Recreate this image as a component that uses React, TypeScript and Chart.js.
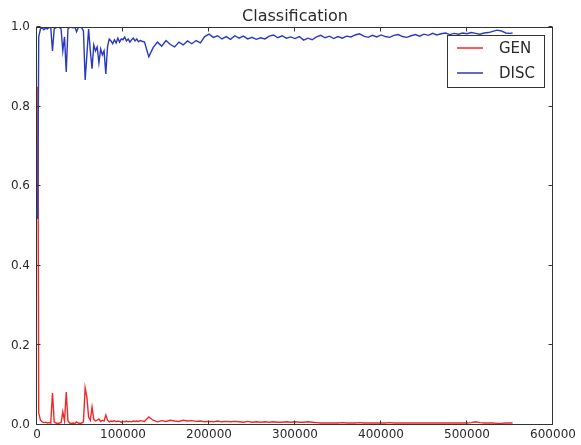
import { useEffect, useRef } from "react";
import { Chart, registerables } from "chart.js";

Chart.register(...registerables);

const TITLE = "Classification";
const SERIES_NAMES = ["GEN", "DISC"];
const SERIES_COLORS = ["#f02828", "#2a3ac0"];
const X_TICKS = [0, 100000, 200000, 300000, 400000, 500000, 600000];
const Y_TICKS = [0, 0.2, 0.4, 0.6, 0.8, 1.0];

// iteration (in thousands)
const X_EARLY_K = [
  0, 1, 2, 4, 6, 8, 10, 12, 14, 16,
  18, 20, 22, 24, 26, 28, 30, 32, 34, 36,
  38, 40, 42, 44, 46, 48, 50, 52, 54, 56,
  58, 60, 62, 64, 66, 68, 70, 72, 74, 76,
  78, 80, 82, 84, 86, 88, 90, 92, 94, 96,
  98, 100, 102, 104, 106, 108, 110, 112, 114, 116,
  118, 120,
];
const X_LATE_K = [
  125, 130, 135, 140, 145, 150, 155, 160, 165, 170,
  175, 180, 185, 190, 195, 200, 205, 210, 215, 220,
  225, 230, 235, 240, 245, 250, 255, 260, 265, 270,
  275, 280, 285, 290, 295, 300, 305, 310, 315, 320,
  325, 330, 335, 340, 345, 350, 355, 360, 365, 370,
  375, 380, 385, 390, 395, 400, 405, 410, 415, 420,
  425, 430, 435, 440, 445, 450, 455, 460, 465, 470,
  475, 480, 485, 490, 495, 500, 505, 510, 515, 520,
  525, 530, 535, 540, 545, 550, 553,
];

const GEN_EARLY = [
  0.52, 0.85, 0.03, 0.012, 0.008, 0.006, 0.007, 0.005, 0.006, 0.005,
  0.08, 0.008, 0.005, 0.004, 0.005, 0.006, 0.033, 0.01, 0.083, 0.01,
  0.005, 0.004, 0.005, 0.004, 0.008, 0.005, 0.004, 0.005, 0.008, 0.093,
  0.07, 0.02, 0.012, 0.045, 0.014, 0.01, 0.012, 0.015, 0.009, 0.012,
  0.01, 0.025, 0.012, 0.008, 0.01, 0.009, 0.011, 0.008, 0.01, 0.009,
  0.007, 0.009, 0.008, 0.01, 0.008, 0.009, 0.008, 0.01, 0.009, 0.01,
  0.009, 0.011,
];
const GEN_LATE = [
  0.009, 0.02, 0.012, 0.008, 0.011, 0.009, 0.012, 0.01, 0.009, 0.012,
  0.01, 0.011, 0.009, 0.01, 0.008, 0.009, 0.008, 0.01, 0.008, 0.009,
  0.008, 0.009, 0.008, 0.007, 0.009, 0.007, 0.008, 0.007, 0.008, 0.007,
  0.008, 0.007, 0.007, 0.008, 0.007, 0.008, 0.007, 0.007, 0.008, 0.007,
  0.006, 0.005, 0.005, 0.005, 0.005, 0.005, 0.006, 0.005, 0.005, 0.005,
  0.006, 0.005, 0.005, 0.005, 0.005, 0.005, 0.005, 0.006, 0.005, 0.005,
  0.005, 0.005, 0.005, 0.005, 0.005, 0.005, 0.005, 0.005, 0.005, 0.005,
  0.005, 0.005, 0.005, 0.005, 0.005, 0.005, 0.006, 0.008, 0.006, 0.005,
  0.005, 0.005, 0.004, 0.004, 0.005, 0.005, 0.005,
];

const DISC_EARLY = [
  0.52, 0.57, 0.975, 0.995, 0.998, 0.993, 0.997, 0.995, 0.999, 0.998,
  0.94, 0.995, 0.998, 1.0, 0.999, 0.995, 0.94, 0.975, 0.887, 0.995,
  1.0, 0.999, 0.998, 1.0, 0.988, 0.999, 1.0, 0.998, 0.99, 0.867,
  0.93, 0.995, 0.94, 0.895, 0.955, 0.94, 0.95, 0.91, 0.945, 0.93,
  0.94, 0.882, 0.95, 0.97, 0.965, 0.958, 0.968, 0.96, 0.972, 0.962,
  0.97, 0.968, 0.975, 0.965, 0.97, 0.962, 0.968, 0.972, 0.965, 0.97,
  0.963, 0.966,
];
const DISC_LATE = [
  0.962, 0.925, 0.948, 0.962, 0.952, 0.966, 0.956, 0.95, 0.962, 0.955,
  0.965, 0.958, 0.966, 0.96, 0.976, 0.982, 0.974, 0.978, 0.97, 0.976,
  0.969, 0.978, 0.972, 0.977, 0.97, 0.974, 0.969, 0.973, 0.97, 0.977,
  0.98, 0.973, 0.978, 0.972, 0.975, 0.971, 0.976, 0.967, 0.972, 0.968,
  0.975, 0.979, 0.973, 0.977, 0.971, 0.976, 0.972, 0.977, 0.975, 0.98,
  0.983, 0.977, 0.974, 0.979, 0.975, 0.98, 0.976, 0.974, 0.979, 0.981,
  0.976, 0.974, 0.978, 0.981, 0.977, 0.982, 0.979, 0.984, 0.98, 0.983,
  0.985, 0.981, 0.984, 0.982, 0.985, 0.983, 0.986, 0.984, 0.982, 0.985,
  0.986, 0.989, 0.992, 0.99, 0.985, 0.984, 0.985,
];

const X_K = [...X_EARLY_K, ...X_LATE_K];
const GEN = [...GEN_EARLY, ...GEN_LATE];
const DISC = [...DISC_EARLY, ...DISC_LATE];

const FONT_FAMILY = '"DejaVu Sans", sans-serif';
const TEXT_COLOR = "#2a2a2a";

function toPoints(ys: number[]) {
  return X_K.map((k, i) => ({ x: k * 1000, y: ys[i] }));
}

const mplPlugin = {
  id: "mplDecor",
  afterDraw(chart: any) {
    const { ctx, chartArea: a, scales } = chart;
    ctx.save();
    // frame
    ctx.strokeStyle = "#333";
    ctx.lineWidth = 1;
    const L = Math.round(a.left) - 0.5;
    const R = Math.round(a.right) - 0.5;
    const T = Math.round(a.top) + 0.5;
    const B = Math.round(a.bottom) - 0.5;
    ctx.strokeRect(L, T, R - L, B - T);
    // inward ticks on all sides
    const tl = 4;
    ctx.beginPath();
    X_TICKS.forEach((v) => {
      const px = Math.round(scales.x.getPixelForValue(v)) - 0.5;
      ctx.moveTo(px, B);
      ctx.lineTo(px, B - tl);
      ctx.moveTo(px, T);
      ctx.lineTo(px, T + tl);
    });
    Y_TICKS.forEach((v) => {
      const py = Math.round(scales.y.getPixelForValue(v)) - 0.5;
      ctx.moveTo(L, py);
      ctx.lineTo(L + tl, py);
      ctx.moveTo(R, py);
      ctx.lineTo(R - tl, py);
    });
    ctx.stroke();
    // title
    ctx.fillStyle = TEXT_COLOR;
    ctx.font = `16px ${FONT_FAMILY}`;
    ctx.textAlign = "center";
    ctx.textBaseline = "alphabetic";
    ctx.fillText(TITLE, (a.left + a.right) / 2, 21);
    // legend
    const lx = 447.5, ly = 35.5, lw = 97, lh = 52;
    ctx.fillStyle = "#fff";
    ctx.fillRect(lx, ly, lw, lh);
    ctx.strokeStyle = "#333";
    ctx.lineWidth = 1;
    ctx.strokeRect(lx, ly, lw, lh);
    ctx.font = `15px ${FONT_FAMILY}`;
    ctx.textAlign = "left";
    ctx.textBaseline = "middle";
    SERIES_NAMES.forEach((name, i) => {
      const y = 48 + i * 25;
      ctx.strokeStyle = SERIES_COLORS[i];
      ctx.lineWidth = 1.5;
      ctx.beginPath();
      ctx.moveTo(457, y);
      ctx.lineTo(483, y);
      ctx.stroke();
      ctx.fillStyle = TEXT_COLOR;
      ctx.fillText(name, 499, y + 1);
    });
    ctx.restore();
  },
};

export default function App() {
  const ref = useRef<HTMLCanvasElement | null>(null);
  useEffect(() => {
    if (!ref.current) return;
    const font = { family: FONT_FAMILY, size: 12 };
    const chart = new Chart(ref.current, {
      type: "line",
      data: {
        datasets: [
          {
            label: SERIES_NAMES[0],
            data: toPoints(GEN),
            borderColor: SERIES_COLORS[0],
            borderWidth: 1.4,
            pointRadius: 0,
            tension: 0,
            order: 2,
          },
          {
            label: SERIES_NAMES[1],
            data: toPoints(DISC),
            borderColor: SERIES_COLORS[1],
            borderWidth: 1.4,
            pointRadius: 0,
            tension: 0,
            order: 1,
          },
        ],
      },
      options: {
        animation: false,
        responsive: false,
        maintainAspectRatio: false,
        layout: { padding: { top: 27, right: 28, left: 0, bottom: 0 } },
        plugins: {
          legend: { display: false },
          title: { display: false },
          tooltip: { enabled: false },
        },
        scales: {
          x: {
            type: "linear",
            min: 0,
            max: 600000,
            afterBuildTicks: (s: any) => {
              s.ticks = X_TICKS.map((v) => ({ value: v }));
            },
            afterFit: (s: any) => {
              s.height = 20;
            },
            ticks: {
              callback: (v: any) => String(v),
              font,
              color: TEXT_COLOR,
              padding: 3,
              maxRotation: 0,
              autoSkip: false,
            },
            grid: { display: false, drawTicks: false },
            border: { display: false },
          },
          y: {
            min: 0,
            max: 1,
            afterBuildTicks: (s: any) => {
              s.ticks = Y_TICKS.map((v) => ({ value: v }));
            },
            afterFit: (s: any) => {
              s.width = 37;
            },
            ticks: {
              callback: (v: any) => Number(v).toFixed(1),
              font,
              color: TEXT_COLOR,
              padding: 7,
            },
            grid: { display: false, drawTicks: false },
            border: { display: false },
          },
        },
      } as any,
      plugins: [mplPlugin],
    });
    return () => chart.destroy();
  }, []);
  return (
    <div style={{ position: "absolute", left: 0, top: 0, width: 581, height: 445, background: "#fff" }}>
      <canvas ref={ref} width={581} height={445} style={{ display: "block" }} />
    </div>
  );
}
